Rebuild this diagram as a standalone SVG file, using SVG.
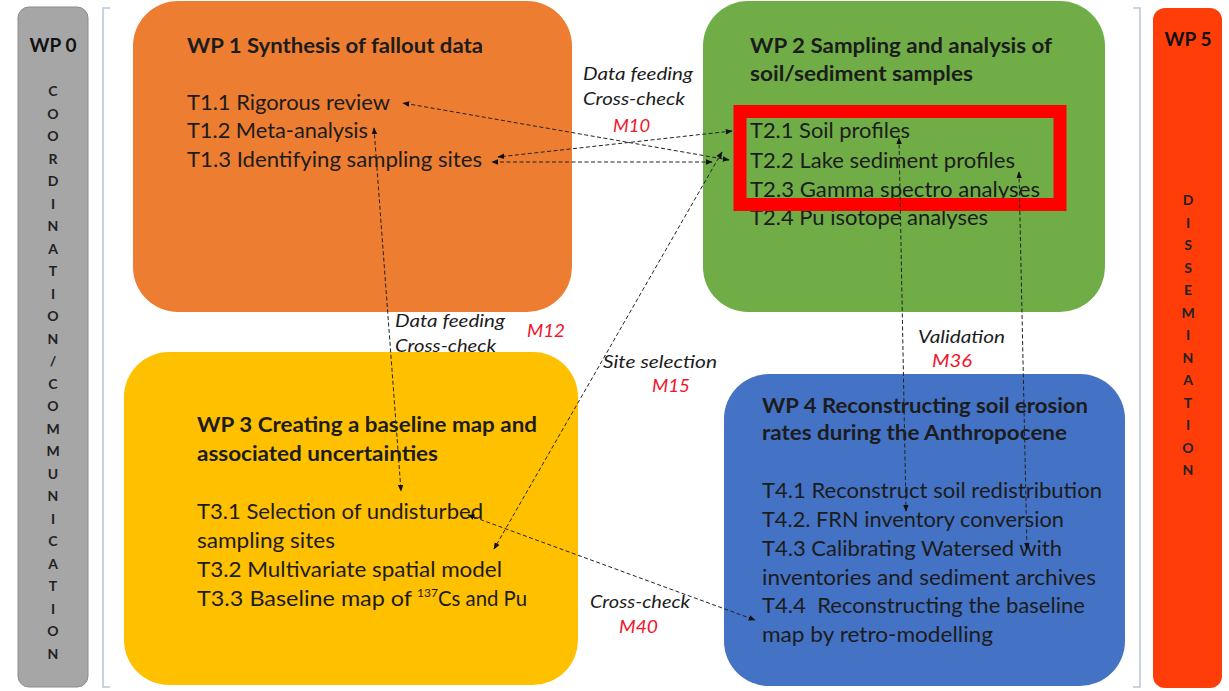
<svg xmlns="http://www.w3.org/2000/svg" width="1229" height="691" viewBox="0 0 1229 691">
<defs>
<style>
.t{font-family:Lato,"Liberation Sans",sans-serif;font-size:21px;fill:#1c1c1c}
.b{font-weight:bold}
.sup{font-family:Lato,"Liberation Sans",sans-serif;font-size:12px;fill:#1c1c1c}
.lbl{font-family:Lato,"Liberation Sans",sans-serif;font-style:italic;font-size:18px;fill:#1c1c1c}
.m{font-family:Lato,"Liberation Sans",sans-serif;font-style:italic;font-size:18px;fill:#f0142c}
.v{font-family:Lato,"Liberation Sans",sans-serif;font-weight:bold;font-size:14px;fill:#222;text-anchor:middle}
.wp{font-family:Lato,"Liberation Sans",sans-serif;font-weight:bold;font-size:19px;fill:#111;text-anchor:middle}
.c{fill:none;stroke:#222;stroke-width:1;stroke-dasharray:4 2.5}
.br{fill:none;stroke:#b7c6dc;stroke-width:1.5}
</style>
<marker id="ah" viewBox="0 0 10 10" refX="9" refY="5" markerWidth="7" markerHeight="7" markerUnits="userSpaceOnUse" orient="auto-start-reverse">
<path d="M0,1 L10,5 L0,9 z" fill="#111"/>
</marker>
</defs>
<rect width="1229" height="691" fill="#ffffff"/>

<g id="brackets">
<path class="br" d="M110,8 H103 V687 H110"/>
<path class="br" d="M1133,8 H1140 V687 H1133"/>
</g>

<g id="wp0">
<rect x="18" y="7" width="70" height="680" rx="11" fill="#a6a6a6" stroke="#8c8c8c" stroke-width="1"/>
<text class="wp" x="53" y="52">WP 0</text>
<text class="v" x="53" y="96">C</text>
<text class="v" x="53" y="118.5">O</text>
<text class="v" x="53" y="141">O</text>
<text class="v" x="53" y="163.5">R</text>
<text class="v" x="53" y="186">D</text>
<text class="v" x="53" y="208.5">I</text>
<text class="v" x="53" y="231">N</text>
<text class="v" x="53" y="253.5">A</text>
<text class="v" x="53" y="276">T</text>
<text class="v" x="53" y="298.5">I</text>
<text class="v" x="53" y="321">O</text>
<text class="v" x="53" y="343.5">N</text>
<text class="v" x="53" y="366">/</text>
<text class="v" x="53" y="388.5">C</text>
<text class="v" x="53" y="411">O</text>
<text class="v" x="53" y="433.5">M</text>
<text class="v" x="53" y="456">M</text>
<text class="v" x="53" y="478.5">U</text>
<text class="v" x="53" y="501">N</text>
<text class="v" x="53" y="523.5">I</text>
<text class="v" x="53" y="546">C</text>
<text class="v" x="53" y="568.5">A</text>
<text class="v" x="53" y="591">T</text>
<text class="v" x="53" y="613.5">I</text>
<text class="v" x="53" y="636">O</text>
<text class="v" x="53" y="658.5">N</text>
</g>

<g id="wp5">
<rect x="1153" y="8" width="69" height="680" rx="12" fill="#ff3d08"/>
<text class="wp" x="1188" y="46">WP 5</text>
<text class="v" x="1188" y="205">D</text>
<text class="v" x="1188" y="227.5">I</text>
<text class="v" x="1188" y="250">S</text>
<text class="v" x="1188" y="272.5">S</text>
<text class="v" x="1188" y="295">E</text>
<text class="v" x="1188" y="317.5">M</text>
<text class="v" x="1188" y="340">I</text>
<text class="v" x="1188" y="362.5">N</text>
<text class="v" x="1188" y="385">A</text>
<text class="v" x="1188" y="407.5">T</text>
<text class="v" x="1188" y="430">I</text>
<text class="v" x="1188" y="452.5">O</text>
<text class="v" x="1188" y="475">N</text>
</g>

<g id="wp1">
<rect x="133" y="1" width="439" height="311" rx="45" fill="#ed7d31"/>
<text class="t b" x="187" y="53" textLength="296" lengthAdjust="spacingAndGlyphs">WP 1 Synthesis of fallout data</text>
<text class="t" x="187" y="110" textLength="203" lengthAdjust="spacingAndGlyphs">T1.1 Rigorous review</text>
<text class="t" x="187" y="138" textLength="181" lengthAdjust="spacingAndGlyphs">T1.2 Meta-analysis</text>
<text class="t" x="187" y="167" textLength="295" lengthAdjust="spacingAndGlyphs">T1.3 Identifying sampling sites</text>
</g>

<g id="wp2">
<rect x="703" y="1" width="402" height="311" rx="45" fill="#70ad47"/>
<text class="t b" x="750" y="53" textLength="302" lengthAdjust="spacingAndGlyphs">WP 2 Sampling and analysis of</text>
<text class="t b" x="750" y="81" textLength="223" lengthAdjust="spacingAndGlyphs">soil/sediment samples</text>
<text class="t" x="750" y="138" textLength="160" lengthAdjust="spacingAndGlyphs">T2.1 Soil profiles</text>
<text class="t" x="750" y="168" textLength="265" lengthAdjust="spacingAndGlyphs">T2.2 Lake sediment profiles</text>
<text class="t" x="750" y="197" textLength="290" lengthAdjust="spacingAndGlyphs">T2.3 Gamma spectro analyses</text>
<text class="t" x="750" y="225" textLength="238" lengthAdjust="spacingAndGlyphs">T2.4 Pu isotope analyses</text>
<rect x="740" y="111.5" width="320" height="93" fill="none" stroke="#ff0000" stroke-width="13"/>
</g>

<g id="wp3">
<rect x="124" y="352" width="454" height="333" rx="45" fill="#ffc000"/>
<text class="t b" x="197" y="432" textLength="340" lengthAdjust="spacingAndGlyphs">WP 3 Creating a baseline map and</text>
<text class="t b" x="197" y="461" textLength="241" lengthAdjust="spacingAndGlyphs">associated uncertainties</text>
<text class="t" x="197" y="519" textLength="286" lengthAdjust="spacingAndGlyphs">T3.1 Selection of undisturbed</text>
<text class="t" x="197" y="548" textLength="138" lengthAdjust="spacingAndGlyphs">sampling sites</text>
<text class="t" x="197" y="577" textLength="305" lengthAdjust="spacingAndGlyphs">T3.2 Multivariate spatial model</text>
<text class="t" x="197" y="606" textLength="215" lengthAdjust="spacingAndGlyphs">T3.3 Baseline map of</text>
<text class="sup" x="417" y="597">137</text>
<text class="t" x="438" y="606" textLength="89" lengthAdjust="spacingAndGlyphs">Cs and Pu</text>
</g>

<g id="wp4">
<rect x="724" y="374" width="401" height="312" rx="45" fill="#4472c4"/>
<text class="t b" x="762" y="413" textLength="326" lengthAdjust="spacingAndGlyphs">WP 4 Reconstructing soil erosion</text>
<text class="t b" x="762" y="440" textLength="305" lengthAdjust="spacingAndGlyphs">rates during the Anthropocene</text>
<text class="t" x="762" y="498" textLength="340" lengthAdjust="spacingAndGlyphs">T4.1 Reconstruct soil redistribution</text>
<text class="t" x="762" y="527" textLength="302" lengthAdjust="spacingAndGlyphs">T4.2. FRN inventory conversion</text>
<text class="t" x="762" y="556" textLength="300" lengthAdjust="spacingAndGlyphs">T4.3 Calibrating Watersed with</text>
<text class="t" x="762" y="585" textLength="334" lengthAdjust="spacingAndGlyphs">inventories and sediment archives</text>
<text class="t" x="762" y="613" xml:space="preserve" textLength="323" lengthAdjust="spacingAndGlyphs">T4.4  Reconstructing the baseline</text>
<text class="t" x="762" y="642" textLength="231" lengthAdjust="spacingAndGlyphs">map by retro-modelling</text>
</g>

<g id="connectors">
<line class="c" x1="729" y1="160" x2="403" y2="103" marker-start="url(#ah)" marker-end="url(#ah)"/>
<line class="c" x1="732" y1="131" x2="498" y2="157" marker-start="url(#ah)" marker-end="url(#ah)"/>
<line class="c" x1="712" y1="162" x2="492" y2="162" marker-start="url(#ah)" marker-end="url(#ah)"/>
<line class="c" x1="722" y1="152" x2="494" y2="549" marker-start="url(#ah)" marker-end="url(#ah)"/>
<line class="c" x1="374" y1="128" x2="401" y2="491" marker-start="url(#ah)" marker-end="url(#ah)"/>
<line class="c" x1="468" y1="515" x2="755" y2="620" marker-start="url(#ah)" marker-end="url(#ah)"/>
<line class="c" x1="899" y1="138" x2="906" y2="511" marker-start="url(#ah)" marker-end="url(#ah)"/>
<line class="c" x1="1019" y1="172" x2="1027" y2="549" marker-start="url(#ah)" marker-end="url(#ah)"/>
</g>

<g id="labels">
<text class="lbl" x="583" y="80" textLength="110" lengthAdjust="spacingAndGlyphs">Data feeding</text>
<text class="lbl" x="583" y="105" textLength="102" lengthAdjust="spacingAndGlyphs">Cross-check</text>
<text class="m" x="613" y="132" textLength="37" lengthAdjust="spacingAndGlyphs">M10</text>
<text class="lbl" x="395" y="327" textLength="110" lengthAdjust="spacingAndGlyphs">Data feeding</text>
<text class="lbl" x="395" y="352" textLength="101" lengthAdjust="spacingAndGlyphs">Cross-check</text>
<text class="m" x="527" y="337" textLength="38" lengthAdjust="spacingAndGlyphs">M12</text>
<text class="lbl" x="603" y="368" textLength="114" lengthAdjust="spacingAndGlyphs">Site selection</text>
<text class="m" x="652" y="392" textLength="38" lengthAdjust="spacingAndGlyphs">M15</text>
<text class="lbl" x="918" y="343" textLength="87" lengthAdjust="spacingAndGlyphs">Validation</text>
<text class="m" x="932" y="367" textLength="40" lengthAdjust="spacingAndGlyphs">M36</text>
<text class="lbl" x="590" y="608" textLength="100" lengthAdjust="spacingAndGlyphs">Cross-check</text>
<text class="m" x="619" y="633" textLength="39" lengthAdjust="spacingAndGlyphs">M40</text>
</g>
</svg>
